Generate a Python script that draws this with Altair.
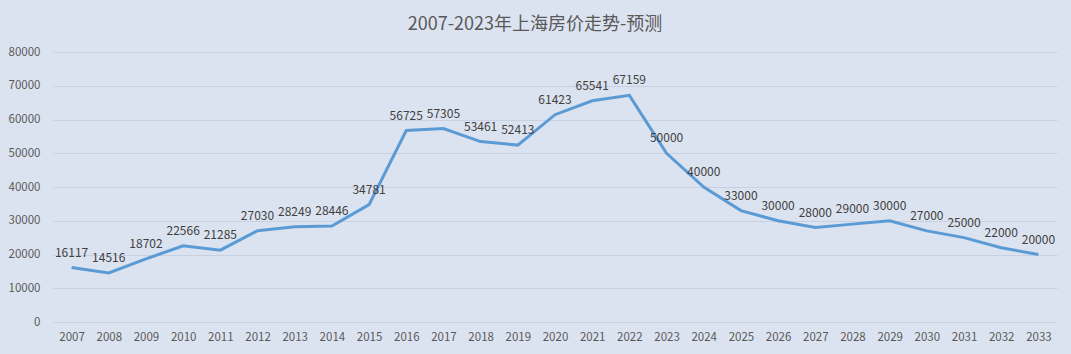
import altair as alt
import pandas as pd

years = [str(y) for y in range(2007, 2034)]
prices = [16117, 14516, 18702, 22566, 21285, 27030, 28249, 28446, 34781,
          56725, 57305, 53461, 52413, 61423, 65541, 67159, 50000, 40000,
          33000, 30000, 28000, 29000, 30000, 27000, 25000, 22000, 20000]
y_ticks = [0, 10000, 20000, 30000, 40000, 50000, 60000, 70000, 80000]

df = pd.DataFrame({"year": years, "price": prices})

BG = "#dce3f0"
FONT = "Noto Sans CJK SC"

x = alt.X("year:O", scale=alt.Scale(type="point", padding=0.5),
          axis=alt.Axis(title=None, labelAngle=0, ticks=False, domain=False,
                        labelPadding=9, labelFontSize=11.5, labelColor="#595959",
                        labelFont=FONT, grid=False, labelOverlap=False))
y = alt.Y("price:Q", scale=alt.Scale(domain=[0, 80000], nice=False),
          axis=alt.Axis(title=None, values=y_ticks, format="d",
                        ticks=False, domain=False, labelPadding=13,
                        labelOverlap=False,
                        labelFontSize=11.5, labelColor="#595959", labelFont=FONT,
                        grid=True, gridColor="#c8d1e1", gridWidth=1))

base = alt.Chart(df).encode(x=x, y=y)
line = base.mark_line(color="#5b9bd5", strokeWidth=3)
labels = base.mark_text(baseline="bottom", dy=-8, fontSize=12,
                        color="#404040", font=FONT).encode(text="price:Q")

chart = (line + labels).properties(
    width=1004, height=270,
    title=alt.TitleParams("2007-2023年上海房价走势-预测", font=FONT, fontSize=18,
                          fontWeight="normal", color="#595959", anchor="middle",
                          offset=12, dx=-20),
    background=BG,
    autosize=alt.AutoSizeParams(type="none"),
    padding={"left": 53, "top": 52, "right": 14, "bottom": 32},
).configure_view(stroke=None, fill=BG)

chart.save("out.html", embed_options={"renderer": "svg", "actions": False})
